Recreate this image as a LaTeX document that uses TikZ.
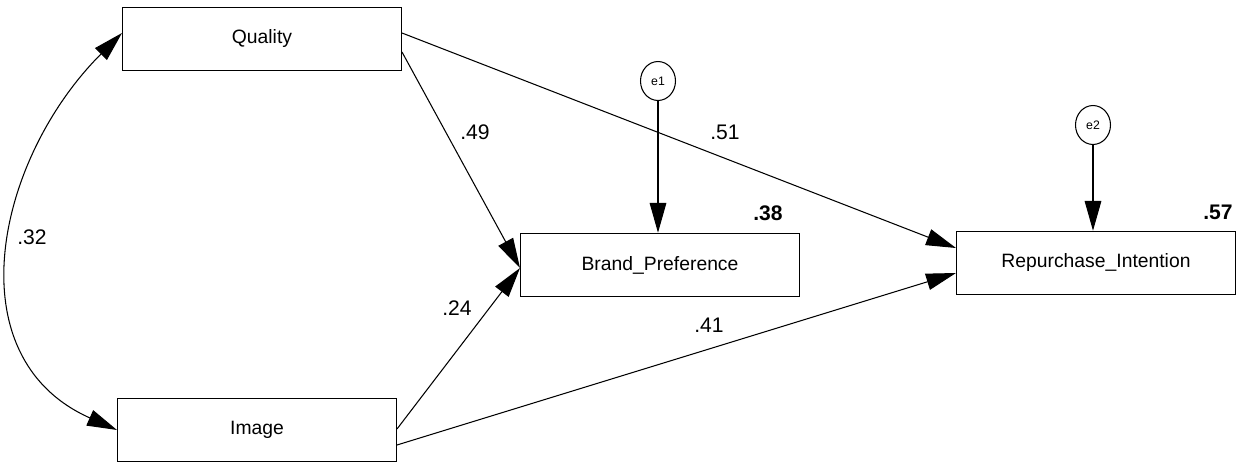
\documentclass[tikz,border=0pt]{standalone}
\usepackage{fontspec}
\setmainfont{Liberation Sans}
\usetikzlibrary{arrows.meta,shapes.geometric}

\begin{document}
\begin{tikzpicture}[x=0.02cm, y=-0.02cm,
    var/.style={draw, line width=0.6pt, minimum width=5.58cm, minimum height=1.27cm,
      inner sep=0pt, font=\fontsize{11}{13}\selectfont},
    err/.style={draw, ellipse, line width=0.6pt, minimum width=0.7cm, minimum height=0.78cm,
      inner sep=0pt, font=\fontsize{7}{8}\selectfont},
    coef/.style={font=\fontsize{12}{14}\selectfont},
    rsq/.style={font=\fontsize{12}{14}\selectfont\bfseries},
    path/.style={line width=0.6pt, -{Triangle[length=17pt, width=9.5pt]}}]
  \useasboundingbox (0, 0) rectangle (1242, 463);

  \node[var] (quality) at (262, 39) {Quality};
  \node[var] (image) at (257, 430) {Image};
  \node[var] (bp) at (660, 265) {Brand\_Preference};
  \node[var] (ri) at (1096, 263) {Repurchase\_Intention};

  \node[err] (e1) at (658, 81) {e1};
  \node[err] (e2) at (1093, 125) {e2};

  \draw[path] ([yshift=-0.26cm]quality.east) -- ([yshift=-0.06cm]bp.west);
  \draw[path] ([yshift=0.02cm]image.east) -- ([yshift=-0.06cm]bp.west);
  \draw[path] ([yshift=0.12cm]quality.east) -- ([yshift=0.3cm]ri.west);
  \draw[path] ([yshift=-0.3cm]image.east) -- ([yshift=-0.2cm]ri.west);
  \draw[path] (e1.south) -- (e1.south |- bp.north);
  \draw[path] (e2.south) -- (e2.south |- ri.north);

  \draw[path, {Triangle[length=17pt, width=9.5pt]}-{Triangle[length=17pt, width=9.5pt]}]
    ([yshift=0.12cm]quality.west) to[out=225, in=156, looseness=1.15] (image.west);

  \node[coef] (c32) at (32, 237) {.32};
  \node[coef] (c49) at (475, 132) {.49};
  \node[coef] (c51) at (725, 132) {.51};
  \node[coef] (c24) at (457, 308) {.24};
  \node[coef] (c41) at (709, 325) {.41};
  \node[rsq] (r38) at (768, 213) {.38};
  \node[rsq] (r57) at (1218, 212) {.57};
\end{tikzpicture}
\end{document}
